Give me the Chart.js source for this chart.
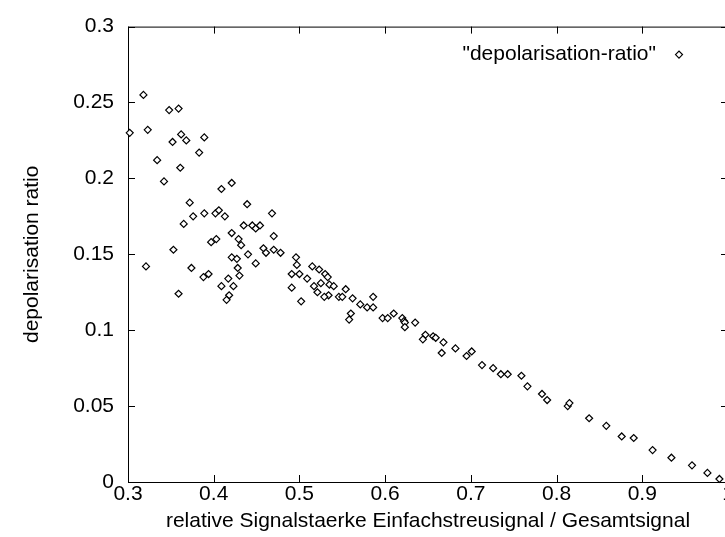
<!DOCTYPE html>
<html>
<head>
<meta charset="utf-8">
<title>depolarisation ratio</title>
<script src="https://cdn.jsdelivr.net/npm/chart.js@4.4.1/dist/chart.umd.min.js"></script>
<style>
  html, body { margin: 0; padding: 0; background: #fff; overflow: hidden; }
  #wrap { width: 740px; height: 537px; }
</style>
</head>
<body>
<div id="wrap"><canvas id="chart" width="740" height="537"></canvas></div>
<script>
// data
const xValues = [
  0.302, 0.318, 0.348, 0.359, 0.323, 0.362, 0.368, 0.352, 0.389, 0.383,
  0.334, 0.361, 0.342, 0.409, 0.421, 0.372, 0.439, 0.376, 0.389, 0.402,
  0.406, 0.413, 0.365, 0.435, 0.445, 0.449, 0.454, 0.468, 0.421, 0.429,
  0.432, 0.397, 0.403, 0.353, 0.458, 0.461, 0.421, 0.427, 0.440, 0.449,
  0.321, 0.374, 0.428, 0.388, 0.394, 0.430, 0.417, 0.409, 0.423, 0.359,
  0.418, 0.415, 0.470, 0.470, 0.478, 0.496, 0.497, 0.491, 0.500, 0.509,
  0.491, 0.502, 0.515, 0.523, 0.530, 0.533, 0.525, 0.535, 0.517, 0.540,
  0.521, 0.534, 0.529, 0.554, 0.546, 0.550, 0.562, 0.586, 0.571, 0.579,
  0.586, 0.560, 0.558, 0.597, 0.603, 0.610, 0.620, 0.622, 0.623, 0.623,
  0.635, 0.647, 0.644, 0.656, 0.659, 0.668, 0.666, 0.682, 0.701, 0.695,
  0.713, 0.726, 0.735, 0.743, 0.759, 0.766, 0.783, 0.789, 0.813, 0.815,
  0.838, 0.858, 0.876, 0.890, 0.912, 0.934, 0.958, 0.976, 0.990
];
const yValues = [
  0.230, 0.255, 0.245, 0.246, 0.232, 0.229, 0.225, 0.224, 0.227, 0.217,
  0.212, 0.207, 0.198, 0.193, 0.197, 0.184, 0.183, 0.175, 0.177, 0.177,
  0.179, 0.175, 0.170, 0.169, 0.169, 0.167, 0.169, 0.177, 0.164, 0.160,
  0.156, 0.158, 0.160, 0.153, 0.154, 0.151, 0.148, 0.147, 0.150, 0.144,
  0.142, 0.141, 0.141, 0.135, 0.137, 0.136, 0.134, 0.129, 0.129, 0.124,
  0.123, 0.120, 0.162, 0.153, 0.151, 0.148, 0.143, 0.137, 0.137, 0.134,
  0.128, 0.119, 0.142, 0.140, 0.137, 0.135, 0.131, 0.130, 0.129, 0.129,
  0.125, 0.123, 0.122, 0.127, 0.122, 0.122, 0.121, 0.122, 0.117, 0.115,
  0.115, 0.111, 0.107, 0.108, 0.108, 0.111, 0.108, 0.106, 0.105, 0.102,
  0.105, 0.097, 0.094, 0.096, 0.095, 0.092, 0.085, 0.088, 0.086, 0.083,
  0.077, 0.075, 0.071, 0.071, 0.070, 0.063, 0.058, 0.054, 0.050, 0.052,
  0.042, 0.037, 0.030, 0.029, 0.021, 0.016, 0.011, 0.006, 0.002
];

const xTickValues = [0.3, 0.4, 0.5, 0.6, 0.7, 0.8, 0.9, 1];
const xTickLabels = ['0.3', '0.4', '0.5', '0.6', '0.7', '0.8', '0.9', '1'];
const yTickValues = [0, 0.05, 0.1, 0.15, 0.2, 0.25, 0.3];
const yTickLabels = ['0', '0.05', '0.1', '0.15', '0.2', '0.25', '0.3'];

const seriesName = '"depolarisation-ratio"';
const xTitle = 'relative Signalstaerke Einfachstreusignal / Gesamtsignal';
const yTitle = 'depolarisation ratio';

const FONT = "'Liberation Sans', Arial, Helvetica, sans-serif";
const font = { family: FONT, size: 21 };

// border box, inward ticks on all four sides, gnuplot-style key
const framePlugin = {
  id: 'frame',
  beforeDatasetsDraw(chart) {
    const { ctx, chartArea: a, scales } = chart;
    const len = 7;
    ctx.save();
    ctx.strokeStyle = '#000';
    ctx.lineWidth = 1;
    ctx.strokeRect(a.left + 0.5, a.top + 0.5, a.right - a.left, a.bottom - a.top);
    ctx.beginPath();
    xTickValues.forEach(v => {
      const x = Math.round(scales.x.getPixelForValue(v)) + 0.5;
      ctx.moveTo(x, a.bottom); ctx.lineTo(x, a.bottom - len);
      ctx.moveTo(x, a.top); ctx.lineTo(x, a.top + len);
    });
    yTickValues.forEach(v => {
      const y = Math.round(scales.y.getPixelForValue(v)) + 0.5;
      ctx.moveTo(a.left, y); ctx.lineTo(a.left + len, y);
      ctx.moveTo(a.right, y); ctx.lineTo(a.right - len, y);
    });
    ctx.stroke();
    ctx.restore();
  },
  afterDraw(chart) {
    const { ctx, chartArea: a } = chart;
    const ds = chart.data.datasets[0];
    const y = a.top + 28;
    ctx.save();
    ctx.font = font.size + 'px ' + FONT;
    ctx.fillStyle = '#000';
    ctx.textAlign = 'right';
    ctx.textBaseline = 'middle';
    ctx.fillText(seriesName, a.right - 72, y);
    ctx.strokeStyle = ds.borderColor;
    ctx.fillStyle = ds.backgroundColor;
    ctx.lineWidth = ds.borderWidth;
    Chart.helpers.drawPoint(ctx, { pointStyle: 'rectRot', radius: ds.pointRadius, borderWidth: ds.borderWidth }, a.right - 49, y);
    ctx.restore();
  }
};

new Chart(document.getElementById('chart'), {
  type: 'scatter',
  data: {
    datasets: [{
      label: seriesName,
      data: xValues.map((x, i) => ({ x: x, y: yValues[i] })),
      pointStyle: 'rectRot',
      pointRadius: 3.5,
      borderWidth: 1.2,
      borderColor: '#000',
      backgroundColor: '#fff',
      clip: false
    }]
  },
  options: {
    responsive: false,
    animation: false,
    layout: { padding: { top: 17, right: 12, left: 0, bottom: 0 } },
    plugins: {
      legend: { display: false },
      tooltip: { enabled: false }
    },
    scales: {
      x: {
        type: 'linear',
        min: 0.3,
        max: 1,
        afterBuildTicks: s => { s.ticks = xTickValues.map(v => ({ value: v })); },
        afterFit: s => { s.height = 55; },
        ticks: {
          font: font,
          color: '#000',
          padding: 0,
          maxRotation: 0,
          autoSkip: false,
          callback: (v, i) => xTickLabels[i]
        },
        grid: { display: false, drawTicks: false },
        border: { display: false },
        title: { display: true, text: xTitle, font: font, color: '#000', padding: { top: 0, bottom: 3 } }
      },
      y: {
        type: 'linear',
        min: 0,
        max: 0.3,
        afterBuildTicks: s => { s.ticks = yTickValues.map(v => ({ value: v })); },
        afterFit: s => { s.width = 128; },
        ticks: {
          font: font,
          color: '#000',
          padding: 14,
          autoSkip: false,
          callback: (v, i) => yTickLabels[i]
        },
        grid: { display: false, drawTicks: false },
        border: { display: false },
        title: { display: true, text: yTitle, font: font, color: '#000', padding: { top: 20, bottom: 0 } }
      }
    }
  },
  plugins: [framePlugin]
});
</script>
</body>
</html>
